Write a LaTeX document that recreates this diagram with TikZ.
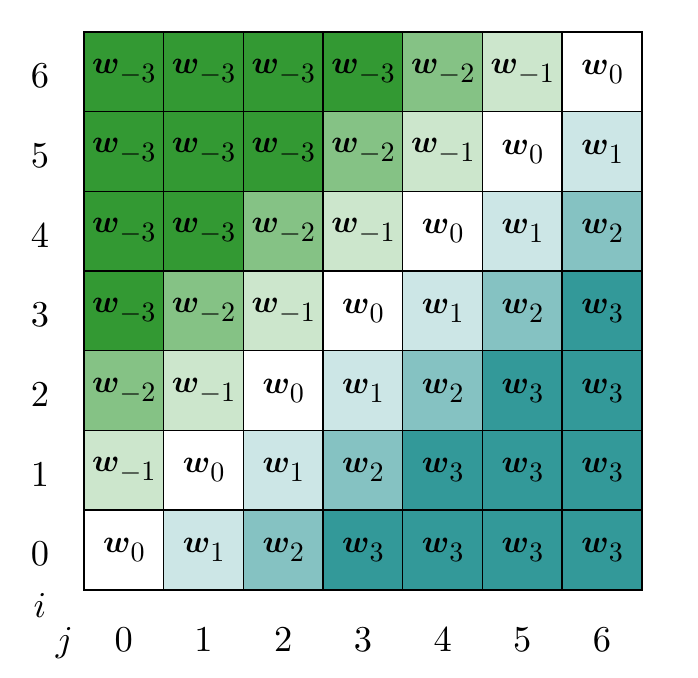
\documentclass[tikz,border=0pt]{standalone}
\usepackage{amsmath}
\usepackage{graphicx}
\definecolor{gr}{RGB}{51,153,51}
\definecolor{te}{RGB}{51,153,153}
\newcommand{\wsub}[1]{\scalebox{1.14}{$\boldsymbol{w}$}\raisebox{-3.2pt}{$#1$}}
\newcommand{\biglab}[1]{\scalebox{1.3}{$#1$}}
\tikzset{
  cell/.style={draw=black, line width=0.5pt, minimum size=1cm, inner sep=0pt, outer sep=0pt},
  lab/.style={anchor=base, inner sep=0pt}
}
\begin{document}
\begin{tikzpicture}
\useasboundingbox (-1.054,-1.104) rectangle (7.704,7.401);
\foreach \i in {0,...,6}{
  \foreach \j in {0,...,6}{
    \pgfmathtruncatemacro\v{max(-3,min(3,\j-\i))}
    \pgfmathtruncatemacro\a{abs(\v)}
    \pgfmathtruncatemacro\pct{\a==0 ? 0 : (\a==1 ? 25 : (\a==2 ? 60 : 100))}
    \ifnum\v<0 \def\cname{gr}\else\def\cname{te}\fi
    \node[cell, fill=\cname!\pct] (c\i\j) at (\j+0.5,\i+0.5) {\wsub{\v}};
  }
  \node[lab] (r\i) at (-0.552,\i+0.30) {\biglab{\i}};
  \node[lab] (k\i) at (\i+0.5,-0.778) {\biglab{\i}};
}
\node[lab] (ilab) at (-0.552,-0.351) {\biglab{i}};
\node[lab] (jlab) at (-0.245,-0.778) {\biglab{j}};
\end{tikzpicture}
\end{document}
